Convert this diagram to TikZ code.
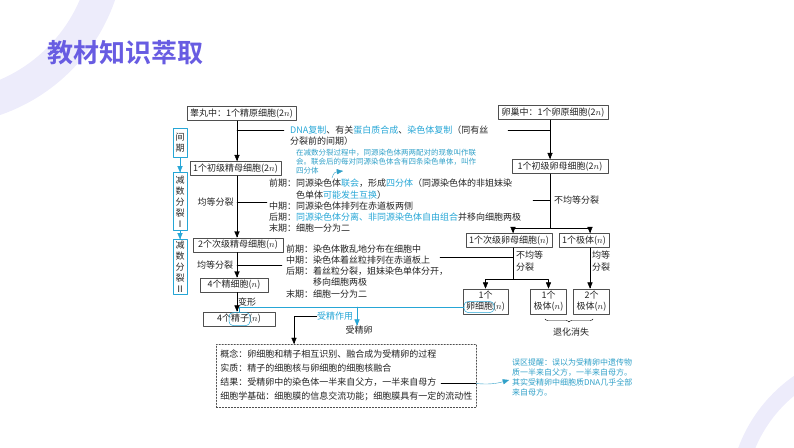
\documentclass[tikz,border=0pt]{standalone}
\usepackage{fontspec}
\setmainfont{Noto Sans CJK SC}[BoldFont={Noto Sans CJK SC Bold}]
\usetikzlibrary{arrows,decorations.pathreplacing}
\definecolor{titlec}{RGB}{104,92,226}
\definecolor{ringc}{RGB}{237,236,251}
\definecolor{hlc}{RGB}{38,166,214}
\definecolor{notec}{RGB}{48,160,200}
\definecolor{inkc}{RGB}{35,35,35}
\newcommand{\hl}[1]{\textcolor{hlc}{#1}}
\newcommand{\nn}{\ensuremath{n}}

\begin{document}
\begin{tikzpicture}[line cap=round,line join=round,>=triangle 45,x=1pt,y=-1pt,
	cellbox/.style={draw=inkc!80,line width=0.5pt,inner xsep=3pt,inner ysep=2.5pt,text=inkc,font=\fontsize{9}{11}\selectfont},
	phasebox/.style={draw=hlc,line width=0.5pt,inner xsep=2.5pt,inner ysep=1pt,text=inkc,align=center,font=\fontsize{9}{11}\selectfont},
	txt/.style={inner sep=0pt,text=inkc,align=left,font=\fontsize{9}{11.2}\selectfont},
	notetxt/.style={inner sep=0pt,text=notec,align=left},
	hlring/.style={draw=hlc,line width=0.5pt,rounded corners=4pt,inner sep=0pt}]
	\useasboundingbox (0,0) rectangle (794,447);
	\begin{scope}
	\clip (0,0) rectangle (794,447);
	\fill[ringc,even odd rule] (-60,-60) circle (185pt) (-60,-60) circle (152pt);
	\fill[ringc,even odd rule] (880,500) circle (151pt) (880,500) circle (135pt);
	\end{scope}
	\node[anchor=west,text=titlec,font=\fontsize{26}{26}\selectfont\bfseries] (title) at (44,53) {教材知识萃取};
	% boxes
	\node[cellbox,minimum width=107] (testis) at (241.5,113.5) {睾丸中：1个精原细胞(2\nn)};
	\node[cellbox,minimum width=110] (ovary) at (553,112.5) {卵巢中：1个卵原细胞(2\nn)};
	\node[cellbox] (ps1) at (235.5,168.5) {1个初级精母细胞(2\nn)};
	\node[cellbox,minimum width=96] (po1) at (560,166.5) {1个初级卵母细胞(2\nn)};
	\node[cellbox,minimum width=90] (ss2) at (238,245) {2个次级精母细胞(\nn)};
	\node[cellbox] (so2) at (509,240.5) {1个次级卵母细胞(\nn)};
	\node[cellbox] (pb1) at (584,240.5) {1个极体(\nn)};
	\node[cellbox,minimum width=68] (st4) at (234,285) {4个精细胞(\nn)};
	\node[cellbox,minimum width=72] (sz4) at (239,319) {4个精子(\nn)};
	\node[cellbox,align=center] (egg) at (485.5,301.5) {1个\\卵细胞(\nn)};
	\node[cellbox,align=center] (pb2) at (548.5,301.5) {1个\\极体(\nn)};
	\node[cellbox,align=center] (pb3) at (591.5,301.5) {2个\\极体(\nn)};
	\node[phasebox,minimum height=29] (jq) at (180,142.5) {间\\期};
	\node[phasebox,minimum height=58] (jf1) at (180,201.5) {减\\数\\分\\裂\\Ⅰ};
	\node[phasebox,minimum height=55] (jf2) at (180,267) {减\\数\\分\\裂\\Ⅱ};
	\draw[->,hlc] (jq) -- (jf1);
	\draw[->,hlc] (jf1) -- (jf2);
	% texts
	\node[txt,anchor=north west] (dna) at (290,125.5) {\hl{DNA复制}、有关\hl{蛋白质合成}、\hl{染色体复制}（同有丝\\分裂前的间期）};
	\node[notetxt,anchor=north west,font=\fontsize{7.5}{9}\selectfont] (note1) at (296,148.5) {在减数分裂过程中，同源染色体两两配对的现象叫作联\\会。联会后的每对同源染色体含有四条染色单体，叫作\\四分体};
	\node[txt,anchor=north west] (mei1) at (269,179) {前期：同源染色体\hl{联会}，形成\hl{四分体}（同源染色体的非姐妹染\\\hspace*{3em}色单体\hl{可能发生互换}）\\中期：同源染色体排列在赤道板两侧\\后期：\hl{同源染色体分离、非同源染色体自由组合}并移向细胞两极\\末期：细胞一分为二};
	\node[txt,anchor=north west] (mei2) at (286,244.5) {前期：染色体散乱地分布在细胞中\\中期：染色体着丝粒排列在赤道板上\\后期：着丝粒分裂，姐妹染色单体分开，\\\hspace*{3em}移向细胞两极\\末期：细胞一分为二};
	\node[txt] (eq1) at (215.5,202) {均等分裂};
	\node[txt] (eq2) at (215,265) {均等分裂};
	\node[txt] (neq1) at (576.5,200) {不均等分裂};
	\node[txt,anchor=north west,font=\fontsize{9}{12}\selectfont] (neq2) at (516,250.5) {不均等\\分裂};
	\node[txt,anchor=north west,font=\fontsize{9}{12}\selectfont] (eq3) at (592,250.5) {均等\\分裂};
	\node[txt] (bx) at (247,302) {变形};
	\node[txt,text=hlc] (fert) at (335,316) {受精作用};
	\node[txt] (zyg) at (359,330) {受精卵};
	\node[txt] (dege) at (571,332) {退化消失};
	\node[txt,anchor=north west,draw=inkc!80,dash pattern=on 1.5pt off 1.5pt,line width=0.5pt,inner xsep=4pt,inner ysep=6pt,font=\fontsize{9}{14}\selectfont] (conc) at (216,344) {概念：卵细胞和精子相互识别、融合成为受精卵的过程\\实质：精子的细胞核与卵细胞的细胞核融合\\结果：受精卵中的染色体一半来自父方，一半来自母方\\细胞学基础：细胞膜的信息交流功能；细胞膜具有一定的流动性};
	\node[notetxt,anchor=north west,font=\fontsize{8}{9.7}\selectfont] (mist) at (512,359) {误区提醒：误以为受精卵中遗传物\\质一半来自父方，一半来自母方。\\其实受精卵中细胞质DNA几乎全部\\来自母方。};
	% left column
	\coordinate (lv) at (237,0);
	\draw[->] (testis.south -| lv) -- (ps1.north -| lv);
	\draw[->] (ps1.south -| lv) -- (ss2.north -| lv);
	\draw[->] (ss2.south -| lv) -- (st4.north -| lv);
	\draw[->] (st4.south -| lv) -- (sz4.north -| lv);
	\coordinate (a1) at (237,130); \coordinate (a2) at (284,130);
	\coordinate (a5) at (237,202); \coordinate (a6) at (267,202);
	\coordinate (a9) at (237,265); \coordinate (a10) at (282,265);
	\draw (a1) -- (a2);
	\draw (a5) -- (a6);
	\draw (a9) -- (a10);
	% right column
	\coordinate (rv) at (550,0);
	\coordinate (ox) at (513,0);
	\coordinate (px) at (590,0);
	\coordinate (b1) at (550,228);
	\coordinate (b2) at (513,279);
	\draw[->] (ovary.south -| rv) -- (po1.north -| rv);
	\draw (po1.south -| rv) -- (b1);
	\draw[->] (b1) -- (b1 -| ox) -- (so2.north -| ox);
	\draw[->] (b1) -- (b1 -| px) -- (pb1.north -| px);
	\draw (so2.south -| ox) -- (b2);
	\draw[->] (b2) -| (egg.north);
	\draw[->] (b2) -| (pb2.north);
	\draw[->] (pb1.south -| px) -- (pb3.north -| px);
	\coordinate (a3) at (508,130); \coordinate (a4) at (550,130);
	\coordinate (a7) at (533,200); \coordinate (a8) at (550,200);
	\coordinate (a11) at (440,257); \coordinate (a12) at (513,257);
	\draw (a3) -- (a4);
	\draw (a7) -- (a8);
	\draw (a11) -- (a12);
	\coordinate (br1) at (545,319); \coordinate (br2) at (593,319);
	\draw[decorate,decoration={brace,mirror,amplitude=3pt}] (br1) -- (br2);
	% fertilization
	\node[hlring,minimum width=21,minimum height=13] (zz) at (239.5,319) {};
	\node[hlring,minimum width=30,minimum height=11] (ee) at (479,307) {};
	\draw[hlc,line width=0.6pt] (zz.north) |- (ee.west);
	\coordinate (fz) at (357,0);
	\draw[->,hlc] (fz |- ee.west) -- (zyg.north -| fz);
	\coordinate (fv) at (294,0);
	\draw[->] (fert.west) -| (fv |- conc.north);
	\coordinate (c1) at (441,383.5); \coordinate (c2) at (476,383.5); \coordinate (c3) at (509,380);
	\draw (c1) -- (c2);
	\draw[->,notec] (c2) .. controls (492,385) and (499,383) .. (c3);
	\coordinate (d1) at (332,178); \coordinate (d2) at (343,171);
	\draw[->,notec] (d1) .. controls (334,172) .. (d2);
\end{tikzpicture}
\end{document}
